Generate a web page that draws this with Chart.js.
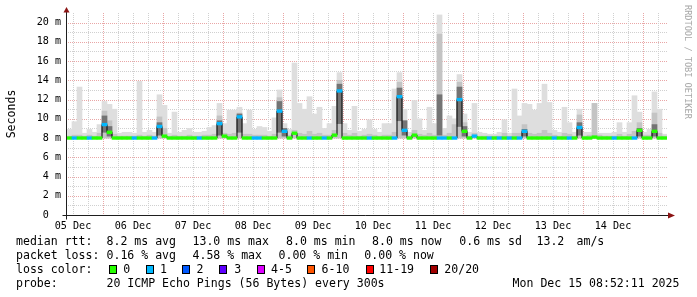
<!DOCTYPE html>
<html>
<head>
<meta charset="utf-8">
<script src="https://cdn.jsdelivr.net/npm/chart.js@4.4.1/dist/chart.umd.min.js"></script>
<style>
  html, body { margin: 0; padding: 0; background: #fff; }
  #wrap { position: relative; width: 697px; height: 297px; overflow: hidden; }
  #wrap canvas { position: absolute; left: 0; top: 0; }
  .lg { position: absolute; font: 11.55px/12px "DejaVu Sans Mono", monospace; color: #000; white-space: pre; }
  .box { position: absolute; width: 6px; height: 7px; border: 1px solid #000; }
</style>
</head>
<body>
<div id="wrap">
  <canvas id="c" width="697" height="297"></canvas>
  <div id="legend"></div>
</div>
<script>
// time axis: hours since 05 Dec 00:00, one sample = 2 hours
const START_HOUR = 9.6;
const STEP_HOURS = 2;
const END_HOUR = 249.6;
const DAY_LABELS = ['05 Dec','06 Dec','07 Dec','08 Dec','09 Dec','10 Dec','11 Dec','12 Dec','13 Dec','14 Dec'];
const Y_UNIT = ' m';

// median rtt (ms), one value per 2h sample
const median = [
  8.0,8.0,8.0,8.0,8.0,8.0,8.0,9.4,8.6,8.0,8.0,8.0,
  8.0,8.0,8.0,8.0,8.0,8.0,9.2,8.2,8.0,8.0,8.0,8.0,
  8.0,8.0,8.0,8.0,8.0,8.0,9.5,8.2,8.0,8.0,10.2,8.0,
  8.0,8.0,8.0,8.0,8.0,8.0,10.8,8.7,8.0,8.5,8.0,8.0,
  8.0,8.0,8.0,8.0,8.0,8.3,12.9,8.0,8.0,8.0,8.0,8.0,
  8.0,8.0,8.0,8.0,8.0,8.0,12.3,8.8,8.0,8.3,8.0,8.0,
  8.0,8.0,8.0,8.0,8.0,8.0,12.0,8.7,8.0,8.2,8.0,8.0,
  8.0,8.0,8.0,8.0,8.0,8.0,8.0,8.7,8.0,8.0,8.0,8.0,
  8.0,8.0,8.0,8.0,8.0,8.0,9.1,8.0,8.0,8.1,8.0,8.0,
  8.0,8.0,8.0,8.0,8.0,8.0,8.8,8.0,8.0,8.7,8.0,8.0
];
// lost pings per sample (index into LOSS_COLORS)
const loss = [
  0,1,0,0,1,0,0,1,0,0,0,0,
  0,1,0,0,0,1,1,0,0,0,0,0,
  0,0,1,0,0,0,1,0,0,0,1,0,
  0,1,1,0,0,0,1,1,0,0,0,0,
  1,0,0,1,0,0,1,0,0,0,0,0,
  1,0,0,0,0,1,1,1,0,0,0,0,
  0,0,1,1,0,1,1,0,0,1,0,0,
  1,0,1,0,1,0,1,1,0,0,0,0,
  0,1,0,0,1,0,1,0,0,0,0,0,
  0,1,0,0,0,1,0,0,0,0,0,0
];
// smoke: slowest ping, upper pings
const pingMax = [
  8.9,9.7,13.3,8.5,8.9,8.6,9.4,11.8,11.5,11.0,8.5,8.6,
  8.6,8.5,13.9,8.6,8.8,8.6,12.5,11.4,8.5,10.7,8.6,8.8,
  9.0,8.6,8.6,8.7,9.1,9.3,11.6,9.5,10.9,10.9,11.2,9.5,
  10.9,8.9,9.2,9.1,8.7,10.1,13.0,9.5,8.9,15.8,11.6,11.0,
  12.3,10.5,11.2,9.0,9.5,11.3,14.8,9.5,8.8,11.3,8.7,8.9,
  9.9,8.9,8.6,9.5,9.5,13.1,14.8,11.0,8.6,11.9,10.0,8.8,
  11.2,9.5,20.8,9.0,10.3,10.0,14.6,10.5,8.6,11.6,8.6,8.5,
  8.4,8.4,8.6,9.9,8.5,13.1,10.3,11.6,11.5,10.9,11.6,13.6,
  11.7,8.8,8.6,11.2,9.6,8.6,11.0,8.6,8.6,11.6,8.5,8.5,
  8.5,8.6,9.6,8.6,9.6,12.4,10.7,8.6,8.9,12.8,11.0,8.4
];
const pingUpper = [
  8.2,8.3,8.3,8.2,8.3,8.2,8.5,10.8,9.8,8.4,8.2,8.2,
  8.2,8.2,8.3,8.2,8.3,8.2,10.2,9.0,8.2,8.3,8.2,8.2,
  8.3,8.2,8.2,8.3,8.3,8.4,10.3,8.5,8.4,8.5,10.6,8.4,
  8.4,8.3,8.3,8.3,8.2,8.4,12.2,8.9,8.3,8.8,8.5,8.4,
  8.7,8.4,8.5,8.3,8.3,8.8,14.0,8.5,8.3,8.5,8.2,8.3,
  8.4,8.3,8.2,8.3,8.3,8.6,13.8,9.8,8.2,8.8,8.4,8.3,
  8.5,8.3,18.8,8.3,8.5,9.4,13.8,9.6,8.2,8.5,8.2,8.2,
  8.2,8.2,8.2,8.5,8.2,8.5,8.5,9.4,8.5,8.4,8.5,8.8,
  8.5,8.3,8.2,8.5,8.4,8.2,10.4,8.2,8.3,11.6,8.3,8.2,
  8.2,8.2,8.4,8.2,8.4,8.7,9.6,8.3,8.3,10.6,8.5,8.2
];
// dense smoke round the median: [sample, low, high]
const darkSmoke = [
  [7,8.6,10.3],[8,8.2,9.2],[18,8.3,9.6],[30,8.3,9.8],[34,8.6,10.5],
  [42,8.6,11.8],[43,8.2,9.0],[54,9.5,13.6],[66,9.8,13.2],[67,8.3,9.8],
  [74,8.3,12.5],[78,9.2,13.3],[79,8.2,9.2],[91,8.2,8.9],[102,8.3,9.6],
  [114,8.2,9.0],[117,8.2,9.4]
];
const PING_FLOOR = 8.0;

const LOSS_LABELS = ['0','1','2','3','4-5','6-10','11-19','20/20'];
const LOSS_COLORS = ['#26ff00','#00b8ff','#0059ff','#5e00ff','#dd00ff','#ff5500','#ff0000','#a10000'];

const sampleX = i => START_HOUR + STEP_HOURS * (i + 0.5);

const barOpts = { grouped: false, barPercentage: 1, categoryPercentage: 1, borderWidth: 0 };

const MAJOR = '#e9a6a6';
const MINOR = '#d0d0d0';

// rrdtool style dotted grid, laid out from the chart's own scales (one pixel dots)
const gridPlugin = {
  id: 'rrdGrid',
  beforeDatasetsDraw(chart) {
    const { ctx, chartArea: a, scales } = chart;
    const l = Math.round(a.left), r = Math.round(a.right);
    const t = Math.round(a.top), b = Math.round(a.bottom);
    ctx.save();
    for (let v = 1; v <= 20; v++) {
      const py = Math.round(scales.y.getPixelForValue(v));
      ctx.fillStyle = v % 2 === 0 ? MAJOR : MINOR;
      for (let px = l + 1; px < r; px += 2) ctx.fillRect(px, py, 1, 1);
    }
    for (let h = 12; h < END_HOUR; h += 6) {
      const px = Math.round(scales.x.getPixelForValue(h));
      ctx.fillStyle = h % 24 === 0 ? MAJOR : MINOR;
      for (let py = t; py < b; py += 2) ctx.fillRect(px, py, 1, 1);
    }
    ctx.restore();
  }
};

const chromePlugin = {
  id: 'rrdChrome',
  afterDraw(chart) {
    const { ctx, chartArea: a } = chart;
    const ax = Math.round(a.left) - 0.5;
    const ay = Math.round(a.bottom) + 0.5;
    ctx.save();
    // axes
    ctx.strokeStyle = '#1e1e1e';
    ctx.lineWidth = 1;
    ctx.beginPath();
    ctx.moveTo(ax - 4, ay); ctx.lineTo(a.right + 2, ay);
    ctx.moveTo(ax, ay + 4); ctx.lineTo(ax, a.top - 1);
    ctx.stroke();
    // arrows
    ctx.fillStyle = '#8b1414';
    ctx.beginPath();
    ctx.moveTo(a.right + 1, ay - 3); ctx.lineTo(a.right + 8, ay); ctx.lineTo(a.right + 1, ay + 3);
    ctx.closePath(); ctx.fill();
    ctx.beginPath();
    ctx.moveTo(ax - 3, a.top - 0.5); ctx.lineTo(ax, a.top - 6); ctx.lineTo(ax + 3, a.top - 0.5);
    ctx.closePath(); ctx.fill();
    // unit title
    ctx.fillStyle = '#000';
    ctx.font = '11.55px "DejaVu Sans Mono"';
    ctx.textAlign = 'center';
    ctx.textBaseline = 'alphabetic';
    ctx.translate(15, (a.top + a.bottom) / 2);
    ctx.rotate(-Math.PI / 2);
    ctx.fillText('Seconds', 0, 0);
    ctx.restore();
    // watermark
    ctx.save();
    ctx.fillStyle = '#a8a8a8';
    ctx.font = '8.6px "DejaVu Sans Mono"';
    ctx.textAlign = 'left';
    ctx.textBaseline = 'alphabetic';
    ctx.translate(684.5, 5);
    ctx.rotate(Math.PI / 2);
    ctx.fillText('RRDTOOL / TOBI OETIKER', 0, 0);
    ctx.restore();
  }
};

new Chart(document.getElementById('c'), {
  type: 'bar',
  data: {
    datasets: [
      Object.assign({ label: 'loss', order: 1,
        data: median.map((v, i) => ({ x: sampleX(i), y: [v - 0.14, v + 0.14] })),
        backgroundColor: loss.map(l => LOSS_COLORS[l]) }, barOpts),
      { type: 'line', label: 'median', order: 2,
        data: median.map((v, i) => ({ x: sampleX(i), y: v })),
        borderColor: '#000', borderWidth: 1, stepped: 'middle', pointRadius: 0, fill: false },
      Object.assign({ label: 'dark', order: 3,
        data: darkSmoke.map(d => ({ x: sampleX(d[0]), y: [d[1], d[2]] })),
        backgroundColor: '#747474' }, barOpts),
      Object.assign({ label: 'upper', order: 4,
        data: pingUpper.map((v, i) => ({ x: sampleX(i), y: [PING_FLOOR, v] })),
        backgroundColor: '#c4c4c4' }, barOpts),
      Object.assign({ label: 'max', order: 5,
        data: pingMax.map((v, i) => ({ x: sampleX(i), y: [PING_FLOOR, v] })),
        backgroundColor: '#dedede' }, barOpts)
    ]
  },
  options: {
    responsive: false,
    animation: false,
    devicePixelRatio: 1,
    layout: { padding: { left: 0, right: 30, top: 13, bottom: 62 } },
    plugins: { legend: { display: false }, tooltip: { enabled: false } },
    scales: {
      x: {
        type: 'linear', min: START_HOUR, max: END_HOUR, offset: false,
        afterBuildTicks: s => {
          const t = [];
          for (let h = 12; h < END_HOUR; h += 6) t.push({ value: h });
          s.ticks = t;
        },
        afterFit: s => { s.height = 20; },
        grid: { display: false, offset: false, drawTicks: false },
        border: { display: false },
        ticks: {
          autoSkip: false, maxRotation: 0, padding: 5, color: '#000',
          font: { family: 'DejaVu Sans Mono', size: 10.1 },
          callback: v => (v - 12) % 24 === 0 ? DAY_LABELS[(v - 12) / 24] : ''
        }
      },
      y: {
        min: 0, max: 21,
        afterFit: s => { s.width = 67; },
        grid: { display: false, drawTicks: false },
        border: { display: false },
        ticks: {
          stepSize: 1, padding: 6, color: '#000',
          font: { family: 'DejaVu Sans Mono', size: 10.1 },
          callback: v => v % 2 !== 0 || v > 20 ? '' : (v === 0 ? '0  ' : v + Y_UNIT)
        }
      }
    }
  },
  plugins: [gridPlugin, chromePlugin]
});

// legend text below the graph
const legendRows = [
  { top: 235, items: [[16,'median rtt:'],[106.5,'8.2 ms avg'],[192.5,'13.0 ms max'],[286,'8.0 ms min'],[372,'8.0 ms now'],[459.3,'0.6 ms sd'],[536.5,'13.2'],[576.5,'am/s']] },
  { top: 249, items: [[16,'packet loss:'],[106.5,'0.16 % avg'],[192.5,'4.58 % max'],[278.5,'0.00 % min'],[364.3,'0.00 % now']] },
  { top: 262.5, items: [[16,'loss color:']] },
  { top: 276.5, items: [[16,'probe:'],[106.5,'20 ICMP Echo Pings (56 Bytes) every 300s'],[512.6,'Mon Dec 15 08:52:11 2025']] }
];
const boxLeft = [108.7,145.7,182.3,219.3,256.7,307.3,365.7,430];
const boxLabelLeft = [123.3,160,196.6,234.3,271,321.6,379.3,444.3];

const legend = document.getElementById('legend');
legendRows.forEach(row => {
  row.items.forEach(([x, txt]) => {
    const s = document.createElement('span');
    s.className = 'lg';
    s.style.left = x + 'px';
    s.style.top = row.top + 'px';
    s.textContent = txt;
    legend.appendChild(s);
  });
});
LOSS_LABELS.forEach((lbl, i) => {
  const b = document.createElement('div');
  b.className = 'box';
  b.style.left = boxLeft[i] + 'px';
  b.style.top = '265px';
  b.style.background = LOSS_COLORS[i];
  legend.appendChild(b);
  const s = document.createElement('span');
  s.className = 'lg';
  s.style.left = boxLabelLeft[i] + 'px';
  s.style.top = '262.5px';
  s.textContent = lbl;
  legend.appendChild(s);
});
</script>
</body>
</html>
